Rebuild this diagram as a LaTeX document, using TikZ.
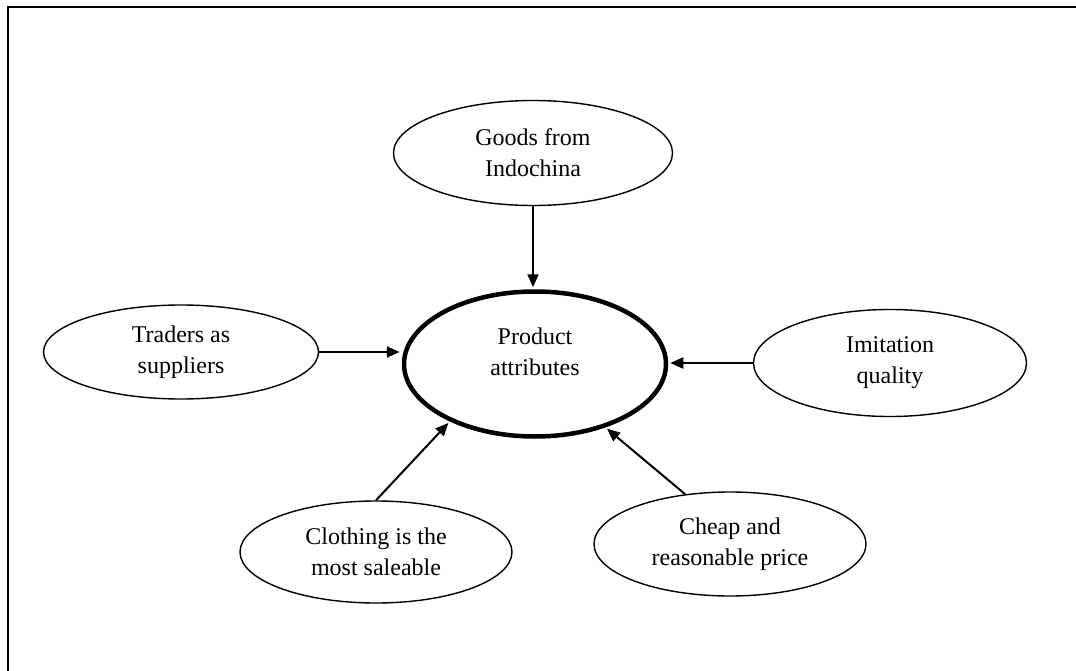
\documentclass[tikz,border=0pt]{standalone}
\usepackage{fontspec}
\setmainfont{Liberation Serif}
\usetikzlibrary{shapes.geometric,arrows.meta}
\begin{document}
\begin{tikzpicture}[x=1pt,y=-1pt,
  bubble/.style={ellipse,draw,line width=1.4pt,inner sep=0pt,align=center,
    font=\fontsize{24}{31}\selectfont},
  hub/.style={ellipse,draw,line width=4.5pt,inner sep=0pt},
  hubtext/.style={align=center,inner sep=0pt,font=\fontsize{24}{31}\selectfont},
  feed/.style={line width=2pt,shorten >=2pt,-{Triangle[length=13pt,width=11pt]}}]
\useasboundingbox (0,0) rectangle (1076,671);

% open frame: top and left rules only
\draw[line width=2.5pt,line join=miter] (1090,7) -- (8,7) -- (8,690);

% central concept
\node[hub,minimum width=262pt,minimum height=145pt] (prod) at (535,364) {};
\node[hubtext] (prodlabel) at (535,352) {Product\\attributes};

% surrounding factors
\node[bubble,minimum width=279pt,minimum height=105pt] (goods) at (533,153) {Goods from\\Indochina};
\node[bubble,minimum width=275pt,minimum height=94pt]  (trad)  at (181,352) {Traders as\\suppliers};
\node[bubble,minimum width=273pt,minimum height=107pt] (imit)  at (890,363) {Imitation\\quality};
\node[bubble,minimum width=272pt,minimum height=102pt] (cloth) at (376,552) {Clothing is the\\most saleable};
\node[bubble,minimum width=272pt,minimum height=104pt] (cheap) at (730,544) {Cheap and\\reasonable price};

% influences
\draw[feed] (goods.south) -- (goods.south |- prod.north);
\draw[feed] (trad.east) -- (trad.east -| prod.west);
\draw[feed] (imit.west) -- (imit.west -| prod.east);
\draw[feed] (cloth.north) -- (prod.214);
\draw[feed] (cheap.132) -- (prod.318);
\end{tikzpicture}
\end{document}
